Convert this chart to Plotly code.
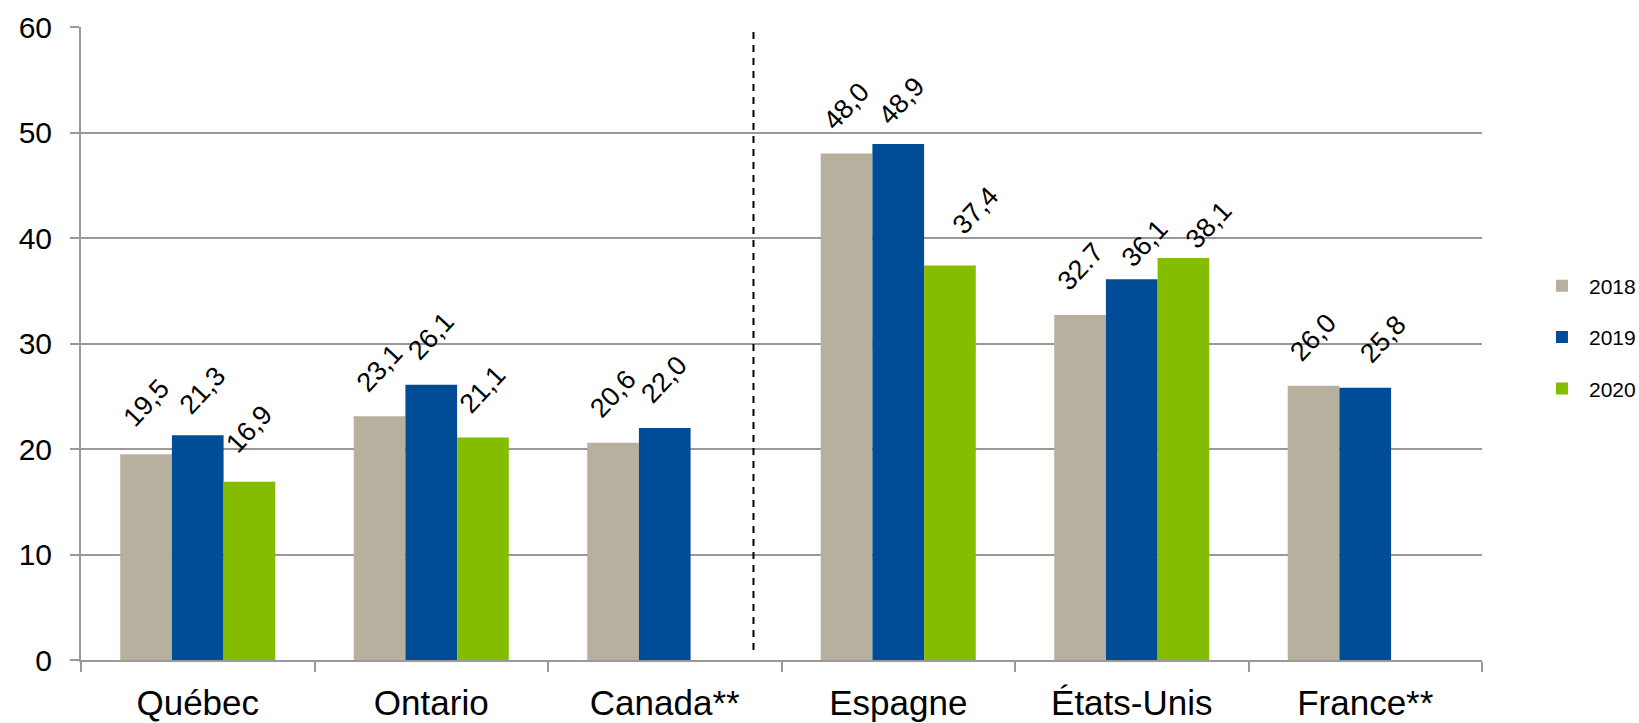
import plotly.graph_objects as go

categories = ["Québec", "Ontario", "Canada**", "Espagne", "États-Unis", "France**"]
years = ["2018", "2019", "2020"]
values_2018 = [19.5, 23.1, 20.6, 48.0, 32.7, 26.0]
values_2019 = [21.3, 26.1, 22.0, 48.9, 36.1, 25.8]
values_2020 = [16.9, 21.1, None, 37.4, 38.1, None]
labels_2018 = ["19,5", "23,1", "20,6", "48,0", "32.7", "26,0"]
labels_2019 = ["21,3", "26,1", "22,0", "48,9", "36,1", "25,8"]
labels_2020 = ["16,9", "21,1", "", "37,4", "38,1", ""]
y_ticks = [0, 10, 20, 30, 40, 50, 60]

# small per-label nudges (pixels) reproducing the original label placement
nudge_x_2018 = [0, 0, 0, 0, 0, 0]
nudge_y_2018 = [3, 0, 0, -1, 0, 0]
nudge_x_2019 = [5, 0, 0, 3, 13, 18]
nudge_y_2019 = [-3, 0, 0, -5, -12, 0]
nudge_x_2020 = [0, 0, 0, 26, 25, 0]
nudge_y_2020 = [4, 0, 0, 7, -15, 0]

colors = ["#B7B09E", "#004C97", "#84BD00"]
FONT = "Liberation Sans, Arial, sans-serif"
W, H = 1639, 723
ML, MR, MT, MB = 81, 157, 27, 63
BARGAP = 0.336

series = [
    (years[0], values_2018, labels_2018, nudge_x_2018, nudge_y_2018),
    (years[1], values_2019, labels_2019, nudge_x_2019, nudge_y_2019),
    (years[2], values_2020, labels_2020, nudge_x_2020, nudge_y_2020),
]

fig = go.Figure()
for i, (name, vals, *_rest) in enumerate(series):
    fig.add_trace(go.Bar(
        x=categories, y=vals, name=name, legendgroup=name,
        marker=dict(color=colors[i], line=dict(width=0)),
    ))

# value labels, anchored at each bar's value through the axes
plot_w = W - ML - MR
bar_px = plot_w / len(categories) * (1 - BARGAP) / len(series)
for i, (name, vals, labs, nx, ny) in enumerate(series):
    for cat, v, lab, dx, dy in zip(categories, vals, labs, nx, ny):
        if v is None:
            continue
        fig.add_annotation(
            x=cat, y=v, text=lab, textangle=-47, showarrow=False,
            xanchor="center", yanchor="bottom",
            xshift=(i - 1) * bar_px + dx, yshift=16 + dy,
            font=dict(family=FONT, size=27, color="#000000"),
        )

# dashed separator between Canadian and international groups
fig.add_shape(type="line", xref="x", yref="y", x0=2.38, x1=2.38, y0=0.95, y1=59.6,
              line=dict(color="#000000", width=2, dash="7px,6px"))

fig.update_layout(
    width=W, height=H,
    margin=dict(l=ML, r=MR, t=MT, b=MB, autoexpand=False),
    paper_bgcolor="#FFFFFF", plot_bgcolor="#FFFFFF",
    barmode="group", bargap=BARGAP, bargroupgap=0,
    font=dict(family=FONT, color="#000000"),
    legend=dict(
        x=1.0378, xanchor="left", y=0.51, yanchor="middle",
        font=dict(family=FONT, size=21, color="#000000"),
        tracegroupgap=21, traceorder="grouped", itemwidth=44,
        bgcolor="rgba(0,0,0,0)",
    ),
    showlegend=True,
)
fig.update_xaxes(
    type="category", tickson="boundaries", ticks="outside", ticklen=10,
    tickwidth=2, tickcolor="#999999", automargin=False,
    showline=True, linecolor="#999999", linewidth=2, ticklabelstandoff=11,
    showgrid=False, tickfont=dict(family=FONT, size=35, color="#000000"),
)
fig.update_yaxes(
    range=[0, 60], tickvals=y_ticks, ticktext=[str(t) for t in y_ticks],
    ticks="outside", ticklen=9, tickwidth=2, tickcolor="#999999", automargin=False,
    showline=True, linecolor="#999999", linewidth=2, ticklabelstandoff=12,
    showgrid=True, gridcolor="#999999", gridwidth=2, zeroline=False,
    tickfont=dict(family=FONT, size=30, color="#000000"),
)

fig.write_html("out.html", config={"displayModeBar": False},
               post_script="document.body.style.margin='0px';")
